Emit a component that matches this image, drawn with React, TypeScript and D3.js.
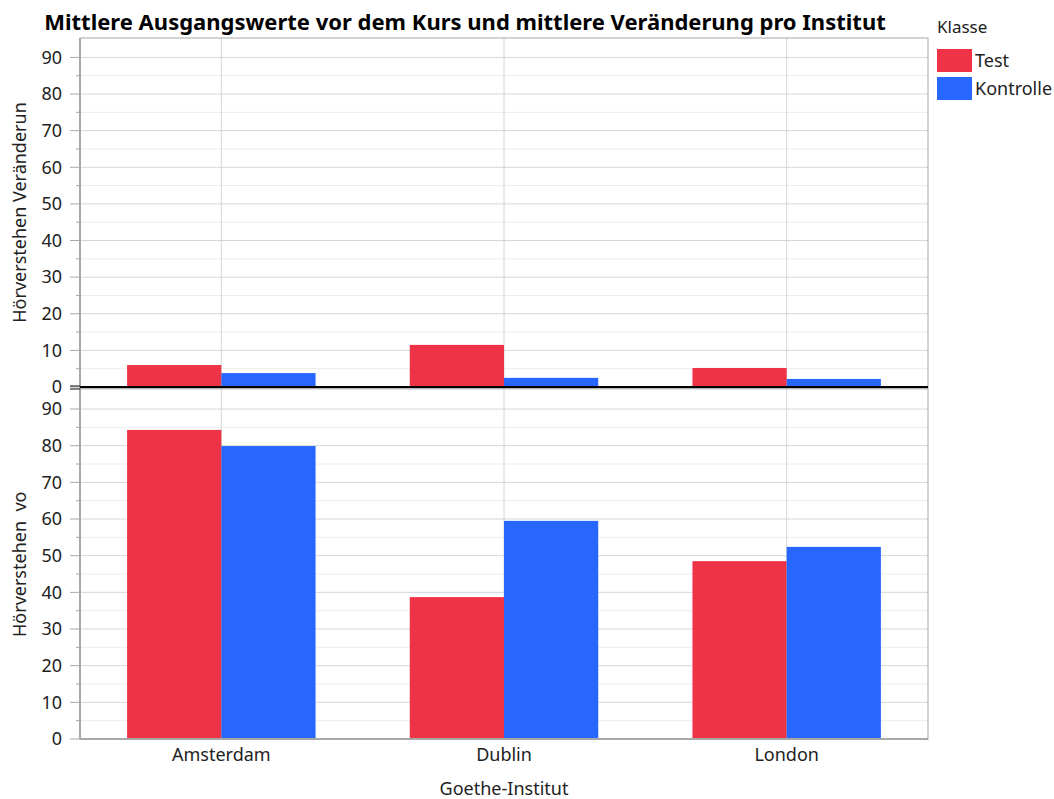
import React, { useEffect, useRef } from 'react';
import * as d3 from 'd3';

const categories = ['Amsterdam', 'Dublin', 'London'];
const classes = ['Test', 'Kontrolle'];
// mean change per institute (upper panel)
const changeTest = [6.0, 11.5, 5.2];
const changeKontrolle = [3.8, 2.5, 2.2];
// mean baseline before the course (lower panel)
const baseTest = [84.3, 38.7, 48.5];
const baseKontrolle = [79.9, 59.5, 52.4];
const yTicks = [0, 10, 20, 30, 40, 50, 60, 70, 80, 90];

const colors = { Test: '#EF3346', Kontrolle: '#2767FF' };
const font = '"Noto Sans", "Open Sans", sans-serif';

const App = () => {
  const ref = useRef<SVGSVGElement | null>(null);

  useEffect(() => {
    const svg = d3.select(ref.current);
    svg.selectAll('*').remove();

    const left = 80, right = 928, top = 38, bottom = 739;

    const x = d3.scaleBand().domain(categories).range([left, right]).paddingOuter(0).paddingInner(0);
    const xInner = d3.scaleBand().domain(classes).range([0, x.bandwidth()]).paddingOuter(0.5).paddingInner(0);

    const yUp = d3.scaleLinear().domain([0, 95.3]).range([387, top]);
    const yLow = d3.scaleLinear().domain([0, 95.3]).range([bottom, 389.6]);

    const panels = [
      { y: yUp, test: changeTest, ctrl: changeKontrolle, label: 'Hörverstehen Veränderun', y0: top, y1: 387 },
      { y: yLow, test: baseTest, ctrl: baseKontrolle, label: 'Hörverstehen  vo', y0: 389.6, y1: bottom },
    ];

    const g = svg.append('g');

    panels.forEach(p => {
      // minor grid
      d3.range(5, 95, 10).forEach(v => {
        g.append('line').attr('x1', left).attr('x2', right).attr('y1', p.y(v)).attr('y2', p.y(v))
          .attr('stroke', '#ececec').attr('stroke-width', 1);
        g.append('line').attr('x1', left - 4).attr('x2', left).attr('y1', p.y(v)).attr('y2', p.y(v))
          .attr('stroke', '#a8a8a8');
      });
      yTicks.forEach(v => {
        if (v > 0) {
          g.append('line').attr('x1', left).attr('x2', right).attr('y1', p.y(v)).attr('y2', p.y(v))
            .attr('stroke', '#d6d6d6').attr('stroke-width', 1);
        }
        g.append('line').attr('x1', left - 10).attr('x2', left).attr('y1', p.y(v)).attr('y2', p.y(v))
          .attr('stroke', '#a8a8a8');
        g.append('text').attr('x', left - 18).attr('y', p.y(v)).attr('dy', '0.35em')
          .attr('text-anchor', 'end').attr('font-size', 18).attr('font-family', font)
          .attr('fill', '#222').text(v);
      });
      // y label
      g.append('text')
        .attr('transform', `translate(26, ${(p.y0 + p.y1) / 2}) rotate(-90)`)
        .attr('text-anchor', 'middle').attr('font-size', 18).attr('font-family', font)
        .attr('fill', '#222').attr('xml:space', 'preserve').style('white-space', 'pre').text(p.label);
    });

    // vertical grid at category centers
    categories.forEach(c => {
      const cx = x(c)! + x.bandwidth() / 2;
      g.append('line').attr('x1', cx).attr('x2', cx).attr('y1', top).attr('y2', bottom)
        .attr('stroke', '#d6d6d6');
    });

    // bars
    panels.forEach(p => {
      classes.forEach(k => {
        const vals = k === 'Test' ? p.test : p.ctrl;
        g.append('g').selectAll('rect').data(categories).enter().append('rect')
          .attr('x', (c) => x(c)! + xInner(k)!)
          .attr('width', xInner.bandwidth())
          .attr('y', (c, i) => p.y(vals[i]))
          .attr('height', (c, i) => p.y(0) - p.y(vals[i]))
          .attr('fill', colors[k as keyof typeof colors]);
      });
    });

    // frame
    g.append('rect').attr('x', left).attr('y', top).attr('width', right - left).attr('height', bottom - top)
      .attr('fill', 'none').attr('stroke', '#a8a8a8');
    g.append('line').attr('x1', left).attr('x2', left).attr('y1', top).attr('y2', bottom)
      .attr('stroke', '#a8a8a8').attr('stroke-width', 2);
    g.append('line').attr('x1', left).attr('x2', right).attr('y1', bottom).attr('y2', bottom)
      .attr('stroke', '#a8a8a8').attr('stroke-width', 2);

    // panel break
    g.append('line').attr('x1', left).attr('x2', right).attr('y1', 387).attr('y2', 387)
      .attr('stroke', '#000').attr('stroke-width', 2);
    g.append('line').attr('x1', left).attr('x2', right).attr('y1', 388.8).attr('y2', 388.8)
      .attr('stroke', '#999').attr('stroke-width', 1);
    [386, 389].forEach(yy => {
      g.append('line').attr('x1', left - 10).attr('x2', left).attr('y1', yy).attr('y2', yy)
        .attr('stroke', '#333').attr('stroke-width', 1.2);
    });

    // x axis labels
    categories.forEach(c => {
      g.append('text').attr('x', x(c)! + x.bandwidth() / 2).attr('y', 761)
        .attr('text-anchor', 'middle').attr('font-size', 18).attr('font-family', font)
        .attr('fill', '#222').text(c);
    });
    g.append('text').attr('x', 504).attr('y', 795).attr('text-anchor', 'middle')
      .attr('font-size', 18).attr('font-family', font).attr('fill', '#222').text('Goethe-Institut');

    // title
    g.append('text').attr('x', 465).attr('y', 30).attr('text-anchor', 'middle')
      .attr('font-size', 22).attr('font-weight', 'bold').attr('font-family', font)
      .attr('fill', '#000').text('Mittlere Ausgangswerte vor dem Kurs und mittlere Veränderung pro Institut');

    // legend
    g.append('text').attr('x', 937).attr('y', 33).attr('font-size', 17).attr('font-family', font)
      .attr('fill', '#222').text('Klasse');
    classes.forEach((k, i) => {
      g.append('rect').attr('x', 937).attr('y', 49 + i * 28).attr('width', 35).attr('height', 23)
        .attr('fill', colors[k as keyof typeof colors]);
      g.append('text').attr('x', 975).attr('y', 61 + i * 28).attr('dy', '0.35em')
        .attr('font-size', 18).attr('font-family', font).attr('fill', '#222').text(k);
    });
  }, []);

  return <svg ref={ref} width={1054} height={799} style={{ position: 'absolute', left: 0, top: 0, background: '#fff' }} />;
};

export default App;
